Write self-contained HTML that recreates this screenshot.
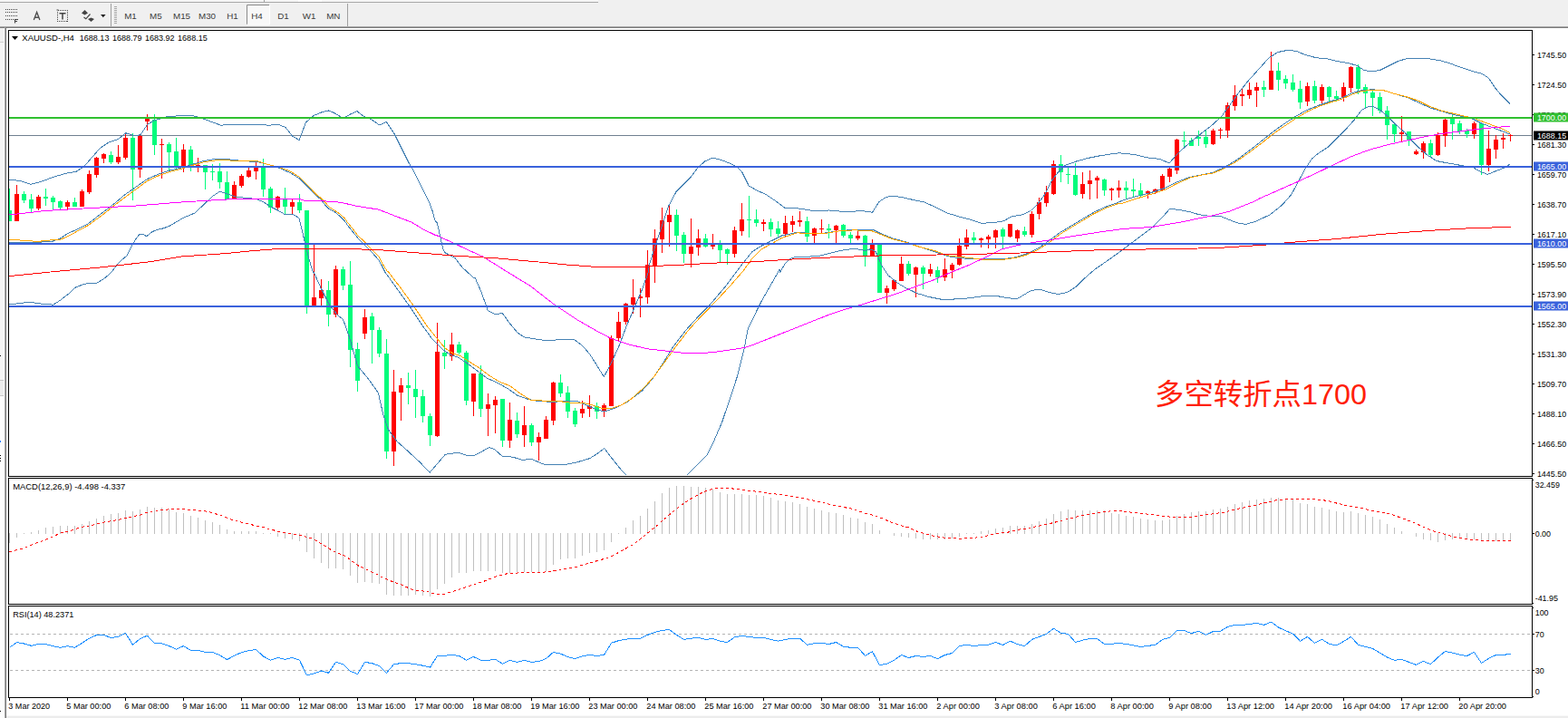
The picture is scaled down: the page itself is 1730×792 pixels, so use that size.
<!DOCTYPE html>
<html><head><meta charset="utf-8"><title>XAUUSD H4</title>
<style>html,body{margin:0;padding:0;background:#fff;}body{width:1730px;height:792px;overflow:hidden;font-family:"Liberation Sans",sans-serif;}</style>
</head><body><svg width="1730" height="792" viewBox="0 0 1730 792" style="display:block"><rect x="0" y="0" width="1730" height="792" fill="#f0f0f0"/>
<rect x="0" y="0" width="660" height="2" fill="#f6f6f6"/>
<rect x="0" y="2" width="660" height="1" fill="#a8a8a8"/>
<rect x="291" y="0" width="1" height="2" fill="#a0a0a0"/>
<rect x="329" y="0" width="26" height="2" fill="#ffffff"/>
<rect x="0" y="29" width="1730" height="1" fill="#a8a8a8"/>
<rect x="0" y="30" width="1730" height="1" fill="#7a7a7a"/>
<rect x="0" y="31" width="1730" height="2" fill="#ffffff"/>
<rect x="0" y="31" width="4" height="16" fill="#f0f0f0"/>
<rect x="0" y="46" width="4" height="1" fill="#d0d0d0"/>
<rect x="0" y="47" width="4" height="372" fill="#f5f5f5"/>
<rect x="0" y="419" width="4" height="1" fill="#c4c4c4"/>
<rect x="0" y="420" width="4" height="16" fill="#ececec"/>
<rect x="0" y="436" width="4" height="1" fill="#c8c8c8"/>
<rect x="0" y="437" width="4" height="355" fill="#fdfdfd"/>
<rect x="0" y="392" width="1" height="1" fill="#000"/>
<rect x="0" y="784" width="1" height="1" fill="#000"/>
<rect x="0" y="486" width="1" height="2" fill="#2a7fff"/>
<rect x="0" y="502" width="1" height="1" fill="#000"/><rect x="0" y="505" width="1" height="1" fill="#000"/><rect x="0" y="508" width="1" height="1" fill="#000"/>
<rect x="4" y="31" width="1" height="761" fill="#fafafa"/>
<rect x="5" y="30" width="1" height="762" fill="#a8a8a8"/>
<rect x="6" y="30" width="1" height="762" fill="#7a7a7a"/>
<rect x="7" y="31" width="2" height="761" fill="#ffffff"/>
<rect x="9" y="31" width="1721" height="759" fill="#ffffff"/>
<rect x="7" y="790" width="1723" height="2" fill="#ececec"/>
<rect x="7" y="789" width="1723" height="1" fill="#f8f8f8"/>
<g id="tb">
<path d="M6 10.5H19M6 13.5H19M6 17.5H19M6 21.5H15" stroke="#444" stroke-width="1" stroke-dasharray="1,1" fill="none" shape-rendering="crispEdges"/>
<path d="M16.5 25.5V21.5H20M16.5 23.5H19" stroke="#444" stroke-width="1.1" fill="none"/>
<path d="M37.3 22.1L40.6 13.4L43.9 22.1M38.5 19.2H42.7" stroke="#505050" stroke-width="1.35" fill="none" stroke-linejoin="miter"/>
<rect x="63.5" y="11.5" width="11" height="12" fill="none" stroke="#444" stroke-width="1" stroke-dasharray="1,1" shape-rendering="crispEdges"/>
<path d="M65.5 14.7H72.5M69 14.7V21.5" stroke="#444" stroke-width="1.5" fill="none"/>
<rect x="62.5" y="10.5" width="2" height="1" fill="#444"/>
<path d="M90 14.5L93.5 11L97 14.5L93.5 16.5Z" fill="#444"/>
<path d="M97 21L100.5 24L104 21L100.5 19.5Z" fill="#444"/>
<path d="M92.5 19L94.8 20.8L99.5 15.5" stroke="#444" stroke-width="1.2" fill="none"/>
<path d="M111 16H116.6L113.8 19.2Z" fill="#222"/>
<rect x="122" y="4" width="1" height="25" fill="#a0a0a0"/>
<rect x="383" y="4" width="1" height="25" fill="#a0a0a0"/>
<path d="M126 7.5H129M126 9.5H129M126 11.5H129M126 13.5H129M126 15.5H129M126 17.5H129M126 19.5H129M126 21.5H129M126 23.5H129M126 25.5H129" stroke="#a8a8a8" stroke-width="1" fill="none" shape-rendering="crispEdges"/>
<rect x="272" y="5" width="25" height="22" fill="#f8f8f8"/>
<path d="M272.5 27V5.5H297" stroke="#8a8a8a" stroke-width="1" fill="none"/>
<path d="M272.5 27H297.5V6" stroke="#ffffff" stroke-width="1" fill="none"/>
<g font-size="9.8" font-family="Liberation Sans, sans-serif" fill="#3c3c3c" text-anchor="middle">
<text x="144" y="21.2">M1</text><text x="171.8" y="21.2">M5</text><text x="200.5" y="21.2">M15</text><text x="228.5" y="21.2">M30</text><text x="256.5" y="21.2">H1</text><text x="283.5" y="21.2">H4</text><text x="312.4" y="21.2">D1</text><text x="341.2" y="21.2">W1</text><text x="367.8" y="21.2">MN</text>
</g>
</g>

<rect x="9.5" y="33.5" width="1681" height="492" fill="#fff" stroke="#000" stroke-width="1" shape-rendering="crispEdges"/>
<rect x="9.5" y="527.5" width="1681" height="139" fill="#fff" stroke="#000" stroke-width="1" shape-rendering="crispEdges"/>
<rect x="9.5" y="668.5" width="1681" height="101" fill="#fff" stroke="#000" stroke-width="1" shape-rendering="crispEdges"/>
<defs>
<clipPath id="c1"><rect x="10" y="34" width="1680" height="491"/></clipPath>
<clipPath id="c2"><rect x="10" y="528" width="1680" height="138"/></clipPath>
<clipPath id="c3"><rect x="10" y="669" width="1680" height="100"/></clipPath>
</defs>
<g clip-path="url(#c1)" shape-rendering="crispEdges">
<rect x="10" y="149" width="1680" height="1" fill="#708090"/>
<path d="M18 204h1V244h-1zM42 215h1V232h-1zM74 221h1V231h-1zM90 209h1V228h-1zM98 188h1V214h-1zM106 173h1V196h-1zM114 169h1V180h-1zM130 160h1V181h-1zM138 147h1V176h-1zM154 149h1V196h-1zM162 126h1V144h-1zM178 153h1V197h-1zM202 159h1V190h-1zM218 174h1V190h-1zM258 200h1V220h-1zM266 192h1V207h-1zM274 183h1V196h-1zM282 179h1V198h-1zM306 216h1V233h-1zM322 220h1V236h-1zM346 270h1V338h-1zM354 308h1V337h-1zM370 293h1V350h-1zM402 341h1V374h-1zM434 408h1V514h-1zM442 417h1V464h-1zM482 356h1V482h-1zM498 367h1V398h-1zM522 412h1V459h-1zM538 434h1V481h-1zM546 437h1V478h-1zM562 444h1V494h-1zM578 448h1V493h-1zM594 477h1V508h-1zM602 459h1V484h-1zM610 421h1V469h-1zM642 442h1V461h-1zM650 436h1V460h-1zM666 445h1V460h-1zM674 370h1V448h-1zM682 344h1V376h-1zM690 334h1V358h-1zM698 308h1V346h-1zM706 318h1V350h-1zM714 276h1V335h-1zM722 253h1V312h-1zM730 229h1V279h-1zM738 227h1V272h-1zM762 241h1V295h-1zM770 253h1V282h-1zM786 258h1V275h-1zM810 250h1V284h-1zM818 224h1V260h-1zM842 242h1V255h-1zM866 238h1V262h-1zM874 238h1V256h-1zM882 233h1V250h-1zM898 251h1V268h-1zM906 242h1V257h-1zM922 248h1V268h-1zM946 255h1V265h-1zM962 264h1V282h-1zM978 315h1V335h-1zM986 308h1V321h-1zM994 283h1V310h-1zM1010 294h1V328h-1zM1026 291h1V305h-1zM1042 285h1V310h-1zM1050 290h1V307h-1zM1058 263h1V293h-1zM1066 253h1V275h-1zM1082 262h1V273h-1zM1090 259h1V274h-1zM1098 253h1V274h-1zM1114 247h1V262h-1zM1122 253h1V267h-1zM1138 233h1V262h-1zM1146 218h1V242h-1zM1154 205h1V228h-1zM1162 177h1V215h-1zM1194 190h1V219h-1zM1202 188h1V220h-1zM1210 194h1V219h-1zM1226 207h1V221h-1zM1234 199h1V218h-1zM1266 210h1V219h-1zM1274 208h1V214h-1zM1282 192h1V210h-1zM1290 185h1V201h-1zM1298 153h1V192h-1zM1338 142h1V160h-1zM1346 141h1V153h-1zM1354 113h1V152h-1zM1362 94h1V122h-1zM1370 98h1V117h-1zM1378 91h1V109h-1zM1386 91h1V118h-1zM1402 57h1V99h-1zM1442 91h1V117h-1zM1458 93h1V117h-1zM1482 91h1V112h-1zM1490 73h1V102h-1zM1546 128h1V156h-1zM1562 165h1V171h-1zM1570 156h1V175h-1zM1586 146h1V172h-1zM1594 131h1V162h-1zM1626 134h1V153h-1zM1642 144h1V189h-1zM1650 149h1V175h-1zM1658 147h1V164h-1zM1666 148h1V156h-1zM16 214h5V244h-5zM40 217h5V230h-5zM72 223h5V228h-5zM88 211h5V228h-5zM96 192h5V212h-5zM104 174h5V193h-5zM112 170h5V175h-5zM128 173h5V179h-5zM136 152h5V174h-5zM152 150h5V187h-5zM160 131h5V134h-5zM176 159h5V160h-5zM200 165h5V184h-5zM216 182h5V184h-5zM256 204h5V220h-5zM264 194h5V205h-5zM272 188h5V195h-5zM280 185h5V189h-5zM304 217h5V229h-5zM320 223h5V228h-5zM344 328h5V337h-5zM352 320h5V329h-5zM368 297h5V347h-5zM400 350h5V368h-5zM432 432h5V498h-5zM440 425h5V433h-5zM480 388h5V481h-5zM496 380h5V393h-5zM520 412h5V443h-5zM536 446h5V451h-5zM544 441h5V447h-5zM560 463h5V486h-5zM576 469h5V480h-5zM592 482h5V488h-5zM600 463h5V484h-5zM608 422h5V464h-5zM640 451h5V456h-5zM648 448h5V451h-5zM664 447h5V454h-5zM672 373h5V448h-5zM680 355h5V373h-5zM688 335h5V355h-5zM696 328h5V336h-5zM704 327h5V329h-5zM712 292h5V328h-5zM720 263h5V293h-5zM728 243h5V264h-5zM736 237h5V245h-5zM760 272h5V280h-5zM768 263h5V273h-5zM784 269h5V272h-5zM808 254h5V280h-5zM816 242h5V255h-5zM840 245h5V247h-5zM864 246h5V258h-5zM872 244h5V248h-5zM880 243h5V245h-5zM896 252h5V260h-5zM904 252h5V253h-5zM920 249h5V254h-5zM944 260h5V263h-5zM960 270h5V282h-5zM976 318h5V323h-5zM984 309h5V319h-5zM992 291h5V310h-5zM1008 295h5V303h-5zM1024 297h5V302h-5zM1040 297h5V306h-5zM1048 292h5V298h-5zM1056 271h5V292h-5zM1064 262h5V272h-5zM1080 263h5V265h-5zM1088 261h5V264h-5zM1096 254h5V262h-5zM1112 247h5V261h-5zM1120 254h5V263h-5zM1136 236h5V259h-5zM1144 223h5V236h-5zM1152 212h5V224h-5zM1160 181h5V214h-5zM1192 203h5V214h-5zM1200 199h5V203h-5zM1208 196h5V199h-5zM1224 208h5V210h-5zM1232 207h5V210h-5zM1264 211h5V214h-5zM1272 209h5V212h-5zM1280 194h5V210h-5zM1288 186h5V195h-5zM1296 154h5V188h-5zM1336 144h5V159h-5zM1344 143h5V144h-5zM1352 116h5V144h-5zM1360 105h5V117h-5zM1368 104h5V106h-5zM1376 99h5V105h-5zM1384 96h5V100h-5zM1400 78h5V99h-5zM1440 95h5V112h-5zM1456 96h5V111h-5zM1480 96h5V108h-5zM1488 74h5V97h-5zM1544 146h5V148h-5zM1560 167h5V170h-5zM1568 158h5V168h-5zM1584 149h5V171h-5zM1592 132h5V150h-5zM1624 136h5V148h-5zM1640 164h5V182h-5zM1648 154h5V165h-5zM1656 152h5V154h-5zM1664 149h5V150h-5z" fill="#ff0000"/>
<path d="M10 208h1V244h-1zM26 211h1V224h-1zM34 214h1V235h-1zM50 208h1V227h-1zM58 216h1V232h-1zM66 221h1V232h-1zM82 218h1V228h-1zM122 167h1V181h-1zM146 147h1V221h-1zM170 126h1V171h-1zM186 157h1V190h-1zM194 152h1V188h-1zM210 161h1V189h-1zM226 182h1V209h-1zM234 181h1V199h-1zM242 180h1V208h-1zM250 189h1V220h-1zM290 175h1V217h-1zM298 206h1V235h-1zM314 207h1V237h-1zM330 214h1V235h-1zM338 232h1V346h-1zM362 310h1V360h-1zM378 294h1V320h-1zM386 288h1V405h-1zM394 378h1V432h-1zM410 345h1V401h-1zM418 361h1V394h-1zM426 374h1V506h-1zM450 411h1V446h-1zM458 408h1V461h-1zM466 430h1V466h-1zM474 456h1V492h-1zM490 375h1V407h-1zM506 377h1V391h-1zM514 387h1V447h-1zM530 403h1V460h-1zM554 440h1V493h-1zM570 455h1V483h-1zM586 467h1V492h-1zM618 413h1V438h-1zM626 426h1V461h-1zM634 450h1V471h-1zM658 444h1V462h-1zM746 231h1V277h-1zM754 256h1V290h-1zM778 258h1V273h-1zM794 265h1V290h-1zM802 274h1V292h-1zM826 216h1V262h-1zM834 231h1V250h-1zM850 241h1V261h-1zM858 244h1V262h-1zM890 239h1V267h-1zM914 247h1V263h-1zM930 247h1V262h-1zM938 256h1V268h-1zM954 259h1V294h-1zM970 269h1V323h-1zM1002 288h1V304h-1zM1018 293h1V319h-1zM1034 294h1V312h-1zM1074 256h1V268h-1zM1106 251h1V275h-1zM1130 250h1V261h-1zM1170 171h1V201h-1zM1178 185h1V203h-1zM1186 180h1V216h-1zM1218 197h1V216h-1zM1242 200h1V220h-1zM1250 197h1V218h-1zM1258 202h1V217h-1zM1306 145h1V164h-1zM1314 152h1V161h-1zM1322 144h1V161h-1zM1330 143h1V163h-1zM1394 89h1V107h-1zM1410 69h1V100h-1zM1418 83h1V98h-1zM1426 82h1V101h-1zM1434 89h1V120h-1zM1450 89h1V114h-1zM1466 95h1V112h-1zM1474 100h1V111h-1zM1498 71h1V104h-1zM1506 93h1V119h-1zM1514 100h1V128h-1zM1522 102h1V125h-1zM1530 117h1V154h-1zM1538 135h1V157h-1zM1554 145h1V161h-1zM1578 154h1V173h-1zM1602 126h1V154h-1zM1610 133h1V148h-1zM1618 142h1V152h-1zM1634 135h1V193h-1zM8 232h5V244h-5zM24 214h5V221h-5zM32 220h5V230h-5zM48 217h5V219h-5zM56 218h5V223h-5zM64 222h5V229h-5zM80 223h5V228h-5zM120 171h5V179h-5zM144 152h5V187h-5zM168 132h5V160h-5zM184 159h5V168h-5zM192 167h5V184h-5zM208 165h5V184h-5zM224 182h5V190h-5zM232 189h5V190h-5zM240 189h5V201h-5zM248 201h5V220h-5zM288 185h5V209h-5zM296 208h5V229h-5zM312 220h5V228h-5zM328 223h5V232h-5zM336 232h5V338h-5zM360 320h5V347h-5zM376 297h5V315h-5zM384 314h5V386h-5zM392 385h5V420h-5zM408 349h5V364h-5zM416 364h5V390h-5zM424 390h5V498h-5zM448 425h5V428h-5zM456 429h5V438h-5zM464 437h5V459h-5zM472 459h5V480h-5zM488 389h5V393h-5zM504 380h5V389h-5zM512 389h5V442h-5zM528 412h5V451h-5zM552 440h5V486h-5zM568 464h5V479h-5zM584 469h5V488h-5zM616 422h5V434h-5zM624 433h5V454h-5zM632 453h5V468h-5zM656 448h5V454h-5zM744 237h5V260h-5zM752 259h5V280h-5zM776 263h5V272h-5zM792 269h5V276h-5zM800 275h5V280h-5zM824 242h5V243h-5zM832 242h5V246h-5zM848 245h5V253h-5zM856 252h5V258h-5zM888 244h5V261h-5zM912 252h5V254h-5zM928 248h5V260h-5zM936 259h5V263h-5zM952 260h5V282h-5zM968 269h5V323h-5zM1000 291h5V302h-5zM1016 295h5V302h-5zM1032 298h5V306h-5zM1072 262h5V265h-5zM1104 253h5V261h-5zM1128 255h5V259h-5zM1168 181h5V190h-5zM1176 192h5V193h-5zM1184 193h5V215h-5zM1216 198h5V210h-5zM1240 207h5V210h-5zM1248 209h5V211h-5zM1256 210h5V216h-5zM1304 155h5V156h-5zM1312 155h5V161h-5zM1320 151h5V153h-5zM1328 151h5V159h-5zM1392 96h5V99h-5zM1408 78h5V88h-5zM1416 87h5V92h-5zM1424 91h5V99h-5zM1432 98h5V113h-5zM1448 95h5V111h-5zM1464 96h5V107h-5zM1472 106h5V109h-5zM1496 74h5V98h-5zM1504 96h5V103h-5zM1512 102h5V108h-5zM1520 107h5V122h-5zM1528 122h5V138h-5zM1536 137h5V148h-5zM1552 145h5V154h-5zM1576 158h5V171h-5zM1600 131h5V137h-5zM1608 136h5V145h-5zM1616 144h5V148h-5zM1632 136h5V182h-5z" fill="#00fc7c"/>
<path d="M10 198 L22.5 199.5 L33.8 203.2 L45 200.5 L57.5 195.8 L72.5 191.2 L83.8 189.5 L92.5 183.8 L102.5 172.5 L110 163.8 L120 157 L130 153.8 L138.8 146.8 L147.5 149.5 L155 148.8 L162.5 137.5 L170 133 L183.8 128.8 L200 127.5 L212.5 127.5 L225 131.2 L235 135 L243.8 138.2 L255 137 L270 137 L282.5 137 L296.2 138.2 L307.5 137.5 L315 140.5 L322.5 150 L330 154.5 L337.5 135 L346.2 127.5 L355 123.8 L362.5 122 L368.8 124.5 L378.8 130.5 L386.2 126.2 L393.8 122.5 L400 127.5 L410 132 L418.8 138 L426.2 134.2 L435 147.5 L442.5 162.5 L451.2 180 L455.8 187.6 L461.8 199.7 L467.9 211.8 L473.9 223.9 L477.7 234.5 L479.7 242.9 L482.5 246.2 L488.8 275 L491.2 278.8 L502.5 285 L510 295 L522.5 306.2 L524.1 306.3 L531.3 322.8 L538.4 342.8 L547 347.1 L554.1 345.1 L562.7 357.1 L571.2 367.1 L578.4 371.9 L588.4 373.6 L602.6 375.6 L616.9 374.8 L634 374.8 L642.6 381.3 L651.1 391.3 L658.3 402.7 L666.3 415.6 L674 401.3 L682.5 382.8 L691.1 359.9 L699.7 340 L708.2 320 L715.4 300 L715.5 295 L722.5 272.5 L730 250 L737.5 227.5 L746.2 211.2 L755 202.5 L762.5 195 L770 185 L777.5 178 L786.2 174.2 L795 176.2 L805 180 L812.5 183.8 L818.8 190 L826.2 205 L835 210 L845 214.5 L855 221.2 L866.2 229.5 L881.2 230 L897.5 232.5 L915 232 L935 233.8 L950 232.5 L962.5 234.2 L970 222.5 L977.5 217.5 L985 216.2 L995 217.5 L1007.5 220.5 L1020 223 L1032.5 228.8 L1045 235 L1057.5 238.8 L1070 242 L1082.5 246.2 L1095 245.8 L1107.5 243.8 L1116.2 238.8 L1127.5 237 L1137.5 232.5 L1145 225 L1152.5 215 L1160 200 L1167.5 190 L1175 182.5 L1187.5 178 L1200 174.5 L1212.5 172 L1225 170 L1235 168.8 L1252.5 170.5 L1265 173.8 L1280 175.5 L1290 180 L1300 168.8 L1312.5 157.5 L1325 147.5 L1335 140 L1347.5 128.8 L1357.5 115 L1367.5 101.2 L1377.5 88.8 L1390 75 L1400 63.8 L1410 57.5 L1420 55.5 L1430 56.2 L1440 60.5 L1452.5 63.8 L1465 65 L1475 67.5 L1487.5 69.5 L1497.5 72.5 L1505 77.5 L1512.5 78.8 L1522.5 77.5 L1532.5 72.5 L1542.5 67.5 L1552.5 64.5 L1565 64.2 L1577.5 65 L1590 67 L1600 70 L1610 73.8 L1625 78.8 L1635 81.2 L1642.5 86.2 L1650 97.5 L1657.5 106.2 L1665.8 114.5" fill="none" stroke="#4682b4" stroke-width="1" />
<path d="M10 335.8 L20.8 334.7 L31.9 333.1 L40.3 334.4 L50 335.6 L59 336.1 L66.7 331 L75 324.7 L83.3 317.1 L90.3 314.3 L97.2 312.5 L106.9 312.2 L113.9 308.1 L122.2 301.1 L129.2 292.1 L134.7 286.5 L140.3 281.7 L144.4 273.3 L149.3 264.3 L154.2 258.1 L158.3 258.8 L161.8 260.6 L168.1 255.6 L173.6 253.2 L180.6 251.8 L187.5 249 L194.4 244.9 L202.8 240 L215 235 L225 225.5 L235 216.2 L242.5 211.2 L250 213.8 L260 217 L270 218.2 L282.5 219.5 L290 222.5 L300 228.8 L307.5 232.5 L315 237 L322.5 236.2 L329.5 240.2 L330 240.6 L333 252.7 L336.8 269.4 L340.6 284.5 L345.2 300 L346.5 300.8 L354.1 317.8 L363.6 336.7 L373 348.1 L378.6 352.5 L385.5 371.8 L394.5 403.6 L405.9 417.3 L417.3 433.2 L423 458.2 L428.6 474.1 L437.7 486.6 L449.1 496.8 L462.7 509.3 L474.2 521.2 L482.8 511.2 L491.3 501.2 L505.6 499.2 L514.2 502.1 L522.7 502.6 L531.3 498.3 L539.8 493.5 L545.5 495.5 L554.1 503.2 L565.5 504.1 L576.9 507.5 L585.5 506.1 L599.8 512 L611.2 512.9 L622.6 512.6 L636.9 509.8 L651.1 505.5 L659.7 499.8 L666.8 494.6 L674 504.1 L685.4 518.3 L691.1 524" fill="none" stroke="#4682b4" stroke-width="1" />
<path d="M758.2 524 L765.3 516.9 L779.6 502.6 L788.1 485.5 L796.7 465.5 L805.3 439.8 L813.8 414.2 L820.9 385.6 L825.2 362.8 L832.1 348.5 L840 332.5 L850 315 L860 297.5 L860.8 300 L866.1 290.8 L871.4 285.8 L876.7 283.7 L887.3 283.2 L901.5 282.8 L912.1 280.2 L926.2 276.6 L935.1 275.2 L943.9 274.5 L951 275.8 L954.5 276.3 L960 274.9 L966.2 277.5 L972.5 292.5 L980 303.8 L990 312 L1000 318 L1012.5 323.8 L1025 327.5 L1037.5 330 L1052.5 330 L1070 328.8 L1087.5 326.2 L1102.5 327 L1112.5 328.8 L1122.5 329.5 L1130 325 L1137.5 320.5 L1147.5 319.2 L1157.5 322.5 L1167.5 324.5 L1177.5 322.5 L1187.5 316.2 L1197.5 306.2 L1207.5 297.5 L1220 288.8 L1232.5 280 L1242.5 272.5 L1255.6 262.8 L1271.2 251.1 L1281.6 240.7 L1290.7 230.3 L1302.4 231.6 L1312.8 233.7 L1323.2 236.8 L1336.3 238.6 L1346.7 238.6 L1357.1 242.8 L1367.5 246.7 L1375.3 247.2 L1385.7 244.1 L1401.3 236.8 L1414.3 226.4 L1424.7 214.7 L1432.5 200.4 L1440 186.2 L1447.5 175 L1455 168.8 L1465 162.5 L1475 152.5 L1485 142.5 L1495 131.2 L1502.5 121.2 L1508.8 118 L1515 117.5 L1522.5 121.2 L1530 127.5 L1540 137.5 L1550 146.2 L1557.5 155 L1565 162.5 L1575 171.2 L1585 177.5 L1595 179.5 L1605 181.2 L1615 183 L1625 184.5 L1632.5 188.8 L1641.2 192.5 L1650 188.8 L1660 185 L1665.8 181.2" fill="none" stroke="#4682b4" stroke-width="1" />
<path d="M10 267.5 L30.6 267.5 L44.4 267.1 L58.3 266.1 L66.7 262.9 L75 257.4 L86.1 252.5 L97.2 246.9 L112.5 235 L125 225.5 L137.5 215 L150 206.2 L162.5 197.5 L175 192 L187.5 188 L200 185 L210 182 L225 177.5 L237.5 175.5 L250 175.5 L262.5 177 L275 178 L285 178.8 L295 181.2 L307.5 185 L320 190.5 L330 196.7 L336.1 202.7 L342.1 208.8 L349.7 216.4 L354.2 220.2 L358.8 226.2 L363.3 230.8 L369.4 233.8 L375.5 238.8 L380 243.6 L384.5 249.7 L390.6 257.3 L395.2 263 L401.2 269.4 L405.8 273.9 L411.8 280 L417.9 286.8 L422.4 295.2 L424.7 300 L437.1 317.1 L451.4 337.1 L465.6 358.5 L477.1 374.2 L488.5 385.6 L497 391.3 L505.6 394.2 L514.2 399.9 L525.6 408.4 L537 417 L548.4 422.1 L559.8 428.4 L571.2 436.4 L582.6 440.4 L594.1 442.7 L611.2 443.3 L625.5 442.1 L636.9 442.7 L648.3 447.5 L659.7 452.7 L668.3 453.5 L679.7 449.8 L691.1 444.1 L708.2 431.3 L719.6 418.4 L731.1 401.3 L742.5 382.8 L756.7 364.2 L771 348.5 L782.4 337.1 L799.5 317.1 L820 290 L830 277.5 L840 271.2 L850 266.2 L862.5 260 L880 256.2 L895 257.5 L910 257 L925 255 L942.5 253 L962.5 253 L972.5 258 L985 263 L1000 267 L1015 272.5 L1032.5 278 L1045 282.5 L1057.5 284.5 L1070 285.5 L1085 285.8 L1107.5 285.8 L1120 283.8 L1132.5 280 L1145 274.2 L1157.5 265.5 L1170 256.2 L1182.5 248.8 L1195 241.2 L1207.5 233.8 L1220 228.2 L1232.5 223.8 L1240 220.5 L1255 216.2 L1270 212.5 L1285 207.5 L1297.5 201.2 L1312.5 195.5 L1325 193 L1337.5 190.5 L1350 185 L1365 176.2 L1380 165 L1392.5 155 L1405 145 L1417.5 136.2 L1430 128 L1442.5 121.2 L1455 116.2 L1467.5 112 L1480 108 L1492.5 102.5 L1502.5 99.5 L1515 98.8 L1527.5 100 L1540 103.8 L1552.5 107.5 L1565 113 L1577.5 118.8 L1590 122.5 L1602.5 126.2 L1615 128.8 L1625 131.2 L1635 136.2 L1645 140 L1655 143.8 L1665.8 148" fill="none" stroke="#4682b4" stroke-width="1" />
<path d="M10 264.6 L22.2 265 L41.7 266.4 L58.3 264.7 L66.7 264.3 L75 260.6 L86.1 254.6 L97.2 248.6 L112.5 237.5 L125 227.5 L137.5 218 L150 208.8 L162.5 199.5 L175 193.8 L187.5 189.5 L200 186.2 L210 183 L225 178.8 L237.5 177 L250 176.8 L262.5 177.5 L275 177.5 L285 178 L295 181.2 L307.5 184.5 L320 188.8 L330 195.2 L336.1 201.2 L342.1 207.3 L349.7 215.2 L354.2 218.6 L358.8 223.2 L363.3 228.5 L369.4 232.3 L375.5 236.4 L380 240.6 L384.5 246.7 L390.6 254.2 L395.2 260.3 L401.2 265.6 L405.8 270.9 L411.8 277 L417.9 283 L422.4 291.4 L427 298.9 L428.5 300 L442.8 318.6 L457.1 338.5 L471.3 359.9 L482.8 374.2 L491.3 384.2 L499.9 389.9 L508.4 392.8 L517 398.5 L528.4 405.6 L539.8 414.2 L551.3 421.3 L562.7 425.6 L574.1 434.1 L585.5 441.3 L599.8 442.1 L614 442.1 L628.3 444.1 L642.6 444.1 L654 447 L665.4 450.7 L674 450.7 L685.4 447 L696.8 439.8 L711.1 427 L722.5 414.2 L733.9 398.5 L745.3 382.8 L759.6 364.2 L773.9 348.5 L788.1 334.2 L805.3 315.7 L820 298.8 L830 285 L840 275 L850 269.5 L862.5 262.5 L880 256.8 L895 258 L910 257.5 L925 255 L942.5 253.8 L962.5 255 L972.5 258.8 L985 263.8 L1000 267.5 L1015 272.5 L1032.5 277 L1045 281.8 L1057.5 283.2 L1070 284.5 L1085 286.2 L1107.5 286.2 L1120 284.5 L1132.5 281.2 L1145 275.5 L1157.5 267.5 L1170 258 L1182.5 250.5 L1195 243 L1207.5 235.5 L1220 229.5 L1232.5 225 L1240 223.8 L1255 218.8 L1270 214.2 L1285 209.5 L1297.5 203 L1312.5 196.2 L1325 193.2 L1337.5 191.2 L1350 186.2 L1365 177.5 L1380 167 L1392.5 157.5 L1405 147.5 L1417.5 138.8 L1430 130.5 L1442.5 123 L1455 117.5 L1467.5 113 L1480 109.5 L1492.5 103.8 L1502.5 100.5 L1515 99.2 L1527.5 100 L1540 103.8 L1552.5 107 L1565 111.2 L1577.5 117.5 L1590 122 L1602.5 125 L1615 128 L1625 130 L1635 133.8 L1645 137.5 L1655 141.2 L1665.8 146.2" fill="none" stroke="#ffa500" stroke-width="1" />
<path d="M10 237 L50 232.5 L100 229.5 L150 227 L200 223 L250 220 L275 219.2 L300 219.2 L330 219.4 L336.1 221.2 L355.8 221.7 L375.5 223.2 L393.6 227.3 L417.9 231.2 L436.1 238.3 L454.2 245.2 L466.4 252.7 L480 259.2 L482.5 260 L500 268 L515 275 L532.5 283 L550 293.8 L559.8 300 L585.5 315.7 L611.2 335.7 L636.9 352.8 L656.8 364.2 L674 373.3 L693.9 379.9 L713.9 384.8 L733.9 387 L751 389 L768.2 389.9 L788.1 388.5 L808.1 385.6 L822.4 383.3 L832.1 379.9 L912.5 348 L930 342 L950 336.2 L970 330 L990 323.8 L1010 316.2 L1030 308.8 L1050 300 L1070 292 L1090 282.5 L1105 275 L1120 271.2 L1140 267.5 L1160 264.5 L1180 261.2 L1200 258 L1220 255 L1240 252.4 L1271.2 250.4 L1305 244.6 L1336.3 238.1 L1357.1 232.9 L1383.1 222.5 L1390 218.8 L1410 210 L1430 201.2 L1450 192 L1470 182.5 L1490 173 L1510 165.5 L1530 160 L1550 155.5 L1570 151.2 L1590 147.5 L1610 145 L1630 142.5 L1650 140.5 L1665.8 139.2" fill="none" stroke="#ff00ff" stroke-width="1" />
<path d="M10 304.6 L55.6 300 L111.1 294.9 L166.7 288.6 L200 283 L250 279.5 L275 277 L300 275 L325 274 L330 274.7 L390.6 274.7 L420.9 275.8 L451.2 278.2 L480 280.3 L500 282 L550 285 L600 289.5 L625 292 L655 294.2 L675 294.5 L712.5 294.2 L732.5 293 L755 292 L780 290.5 L810 289.2 L820 289.5 L870 286.2 L920 283.8 L970 282 L1020 281.2 L1070 280.5 L1120 279.2 L1170 277.5 L1220 275.5 L1240 275.8 L1279 274.5 L1338.9 273.8 L1396.1 270.1 L1422.1 267.5 L1474.1 263.6 L1526.2 258.2 L1578.2 254.3 L1622.4 251.7 L1666.6 250.4" fill="none" stroke="#ff0000" stroke-width="1" />
<rect x="10" y="129" width="1680" height="2" fill="#30c030"/>
<rect x="10" y="183" width="1680" height="2" fill="#3a62dc"/>
<rect x="10" y="268" width="1680" height="2" fill="#3a62dc"/>
<rect x="10" y="337" width="1680" height="2" fill="#3a62dc"/>
</g>
<path d="M13 40H20L16.5 44Z" fill="#000"/>
<text x="24.3" y="45" font-size="9.9" font-family="Liberation Sans, sans-serif" fill="#000" textLength="57.6" lengthAdjust="spacingAndGlyphs">XAUUSD-,H4</text>
<text x="87.8" y="45" font-size="9.9" font-family="Liberation Sans, sans-serif" fill="#000" textLength="32.6" lengthAdjust="spacingAndGlyphs">1688.13</text>
<text x="123.9" y="45" font-size="9.9" font-family="Liberation Sans, sans-serif" fill="#000" textLength="32.6" lengthAdjust="spacingAndGlyphs">1688.79</text>
<text x="160.0" y="45" font-size="9.9" font-family="Liberation Sans, sans-serif" fill="#000" textLength="32.6" lengthAdjust="spacingAndGlyphs">1683.92</text>
<text x="196.10000000000002" y="45" font-size="9.9" font-family="Liberation Sans, sans-serif" fill="#000" textLength="32.6" lengthAdjust="spacingAndGlyphs">1688.15</text>
<text x="1274" y="446" font-size="31.5" font-family="&quot;Liberation Sans&quot;, &quot;Noto Sans CJK SC&quot;, sans-serif" fill="#ff2008" textLength="234" lengthAdjust="spacingAndGlyphs">多空转折点1700</text>
<rect x="1691" y="60" width="2" height="1" fill="#000"/>
<text x="1695.9" y="64" font-size="9.9" font-family="Liberation Sans, sans-serif" fill="#000" textLength="32.2" lengthAdjust="spacingAndGlyphs">1745.50</text>
<rect x="1691" y="93" width="2" height="1" fill="#000"/>
<text x="1695.9" y="97" font-size="9.9" font-family="Liberation Sans, sans-serif" fill="#000" textLength="32.2" lengthAdjust="spacingAndGlyphs">1724.50</text>
<rect x="1691" y="126" width="2" height="1" fill="#000"/>
<text x="1695.9" y="130" font-size="9.9" font-family="Liberation Sans, sans-serif" fill="#000" textLength="32.2" lengthAdjust="spacingAndGlyphs">1702.90</text>
<rect x="1691" y="159" width="2" height="1" fill="#000"/>
<text x="1695.9" y="163" font-size="9.9" font-family="Liberation Sans, sans-serif" fill="#000" textLength="32.2" lengthAdjust="spacingAndGlyphs">1681.30</text>
<rect x="1691" y="192" width="2" height="1" fill="#000"/>
<text x="1695.9" y="196" font-size="9.9" font-family="Liberation Sans, sans-serif" fill="#000" textLength="32.2" lengthAdjust="spacingAndGlyphs">1659.70</text>
<rect x="1691" y="225" width="2" height="1" fill="#000"/>
<text x="1695.9" y="229" font-size="9.9" font-family="Liberation Sans, sans-serif" fill="#000" textLength="32.2" lengthAdjust="spacingAndGlyphs">1638.70</text>
<rect x="1691" y="258" width="2" height="1" fill="#000"/>
<text x="1695.9" y="262" font-size="9.9" font-family="Liberation Sans, sans-serif" fill="#000" textLength="32.2" lengthAdjust="spacingAndGlyphs">1617.10</text>
<rect x="1691" y="291" width="2" height="1" fill="#000"/>
<text x="1695.9" y="295" font-size="9.9" font-family="Liberation Sans, sans-serif" fill="#000" textLength="32.2" lengthAdjust="spacingAndGlyphs">1595.50</text>
<rect x="1691" y="324" width="2" height="1" fill="#000"/>
<text x="1695.9" y="328" font-size="9.9" font-family="Liberation Sans, sans-serif" fill="#000" textLength="32.2" lengthAdjust="spacingAndGlyphs">1573.90</text>
<rect x="1691" y="357" width="2" height="1" fill="#000"/>
<text x="1695.9" y="361" font-size="9.9" font-family="Liberation Sans, sans-serif" fill="#000" textLength="32.2" lengthAdjust="spacingAndGlyphs">1552.30</text>
<rect x="1691" y="390" width="2" height="1" fill="#000"/>
<text x="1695.9" y="394" font-size="9.9" font-family="Liberation Sans, sans-serif" fill="#000" textLength="32.2" lengthAdjust="spacingAndGlyphs">1531.30</text>
<rect x="1691" y="423" width="2" height="1" fill="#000"/>
<text x="1695.9" y="427" font-size="9.9" font-family="Liberation Sans, sans-serif" fill="#000" textLength="32.2" lengthAdjust="spacingAndGlyphs">1509.70</text>
<rect x="1691" y="456" width="2" height="1" fill="#000"/>
<text x="1695.9" y="460" font-size="9.9" font-family="Liberation Sans, sans-serif" fill="#000" textLength="32.2" lengthAdjust="spacingAndGlyphs">1488.10</text>
<rect x="1691" y="489" width="2" height="1" fill="#000"/>
<text x="1695.9" y="493" font-size="9.9" font-family="Liberation Sans, sans-serif" fill="#000" textLength="32.2" lengthAdjust="spacingAndGlyphs">1466.50</text>
<rect x="1691" y="522" width="2" height="1" fill="#000"/>
<text x="1695.9" y="526" font-size="9.9" font-family="Liberation Sans, sans-serif" fill="#000" textLength="32.2" lengthAdjust="spacingAndGlyphs">1445.50</text>
<rect x="1692" y="124.5" width="38" height="10" fill="#30c030"/>
<text x="1695.9" y="133" font-size="9.9" font-family="Liberation Sans, sans-serif" fill="#fff" textLength="32.2" lengthAdjust="spacingAndGlyphs">1700.00</text>
<rect x="1692" y="144.5" width="38" height="10" fill="#000"/>
<text x="1695.9" y="153" font-size="9.9" font-family="Liberation Sans, sans-serif" fill="#fff" textLength="32.2" lengthAdjust="spacingAndGlyphs">1688.15</text>
<rect x="1692" y="178.5" width="38" height="10" fill="#3a62dc"/>
<text x="1695.9" y="187" font-size="9.9" font-family="Liberation Sans, sans-serif" fill="#fff" textLength="32.2" lengthAdjust="spacingAndGlyphs">1665.00</text>
<rect x="1692" y="263.5" width="38" height="10" fill="#3a62dc"/>
<text x="1695.9" y="272" font-size="9.9" font-family="Liberation Sans, sans-serif" fill="#fff" textLength="32.2" lengthAdjust="spacingAndGlyphs">1610.00</text>
<rect x="1692" y="332.5" width="38" height="10" fill="#3a62dc"/>
<text x="1695.9" y="341" font-size="9.9" font-family="Liberation Sans, sans-serif" fill="#fff" textLength="32.2" lengthAdjust="spacingAndGlyphs">1565.00</text>
<g clip-path="url(#c2)" shape-rendering="crispEdges">
<path d="M10 588h1V599h-1zM18 588h1V593h-1zM26 588h1v1h-1zM34 587h1V589h-1zM42 585h1V589h-1zM50 582h1V589h-1zM58 581h1V589h-1zM66 580h1V589h-1zM74 580h1V589h-1zM82 580h1V589h-1zM90 578h1V589h-1zM98 575h1V589h-1zM106 572h1V589h-1zM114 569h1V589h-1zM122 567h1V589h-1zM130 566h1V589h-1zM138 563h1V589h-1zM146 564h1V589h-1zM154 562h1V589h-1zM162 559h1V589h-1zM170 560h1V589h-1zM178 560h1V589h-1zM186 562h1V589h-1zM194 565h1V589h-1zM202 566h1V589h-1zM210 569h1V589h-1zM218 571h1V589h-1zM226 574h1V589h-1zM234 576h1V589h-1zM242 579h1V589h-1zM250 584h1V589h-1zM258 586h1V589h-1zM266 586h1V589h-1zM274 586h1V589h-1zM282 586h1V589h-1zM290 588h1v1h-1zM298 588h1V589h-1zM306 588h1V592h-1zM314 588h1V594h-1zM322 588h1V595h-1zM330 588h1V597h-1zM338 588h1V609h-1zM346 588h1V616h-1zM354 588h1V621h-1zM362 588h1V627h-1zM370 588h1V627h-1zM378 588h1V628h-1zM386 588h1V635h-1zM394 588h1V643h-1zM402 588h1V642h-1zM410 588h1V643h-1zM418 588h1V644h-1zM426 588h1V656h-1zM434 588h1V657h-1zM442 588h1V657h-1zM450 588h1V657h-1zM458 588h1V656h-1zM466 588h1V657h-1zM474 588h1V658h-1zM482 588h1V650h-1zM490 588h1V644h-1zM498 588h1V637h-1zM506 588h1V632h-1zM514 588h1V632h-1zM522 588h1V630h-1zM530 588h1V630h-1zM538 588h1V630h-1zM546 588h1V630h-1zM554 588h1V632h-1zM562 588h1V632h-1zM570 588h1V631h-1zM578 588h1V631h-1zM586 588h1V631h-1zM594 588h1V632h-1zM602 588h1V630h-1zM610 588h1V623h-1zM618 588h1V617h-1zM626 588h1V616h-1zM634 588h1V616h-1zM642 588h1V613h-1zM650 588h1V610h-1zM658 588h1V609h-1zM666 588h1V607h-1zM674 588h1V598h-1zM682 588h1v1h-1zM690 582h1V589h-1zM698 574h1V589h-1zM706 569h1V589h-1zM714 561h1V589h-1zM722 553h1V589h-1zM730 544h1V589h-1zM738 538h1V589h-1zM746 536h1V589h-1zM754 536h1V589h-1zM762 537h1V589h-1zM770 537h1V589h-1zM778 538h1V589h-1zM786 540h1V589h-1zM794 543h1V589h-1zM802 545h1V589h-1zM810 545h1V589h-1zM818 545h1V589h-1zM826 546h1V589h-1zM834 546h1V589h-1zM842 547h1V589h-1zM850 549h1V589h-1zM858 552h1V589h-1zM866 553h1V589h-1zM874 554h1V589h-1zM882 556h1V589h-1zM890 559h1V589h-1zM898 561h1V589h-1zM906 563h1V589h-1zM914 565h1V589h-1zM922 566h1V589h-1zM930 568h1V589h-1zM938 571h1V589h-1zM946 572h1V589h-1zM954 576h1V589h-1zM962 578h1V589h-1zM970 585h1V589h-1zM986 588h1V591h-1zM994 588h1V592h-1zM1002 588h1V593h-1zM1010 588h1V594h-1zM1018 588h1V595h-1zM1026 588h1V595h-1zM1034 588h1V595h-1zM1042 588h1V595h-1zM1050 588h1V594h-1zM1058 588h1V592h-1zM1066 588h1V589h-1zM1074 588h1v1h-1zM1082 586h1V589h-1zM1090 585h1V589h-1zM1098 583h1V589h-1zM1106 582h1V589h-1zM1114 580h1V589h-1zM1122 580h1V589h-1zM1130 580h1V589h-1zM1138 578h1V589h-1zM1146 575h1V589h-1zM1154 572h1V589h-1zM1162 567h1V589h-1zM1170 564h1V589h-1zM1178 562h1V589h-1zM1186 563h1V589h-1zM1194 563h1V589h-1zM1202 563h1V589h-1zM1210 563h1V589h-1zM1218 563h1V589h-1zM1226 566h1V589h-1zM1234 567h1V589h-1zM1242 569h1V589h-1zM1250 570h1V589h-1zM1258 572h1V589h-1zM1266 573h1V589h-1zM1274 574h1V589h-1zM1282 574h1V589h-1zM1290 573h1V589h-1zM1298 569h1V589h-1zM1306 567h1V589h-1zM1314 565h1V589h-1zM1322 564h1V589h-1zM1330 564h1V589h-1zM1338 562h1V589h-1zM1346 561h1V589h-1zM1354 559h1V589h-1zM1362 556h1V589h-1zM1370 554h1V589h-1zM1378 552h1V589h-1zM1386 551h1V589h-1zM1394 550h1V589h-1zM1402 549h1V589h-1zM1410 549h1V589h-1zM1418 550h1V589h-1zM1426 550h1V589h-1zM1434 555h1V589h-1zM1442 556h1V589h-1zM1450 559h1V589h-1zM1458 560h1V589h-1zM1466 562h1V589h-1zM1474 564h1V589h-1zM1482 565h1V589h-1zM1490 564h1V589h-1zM1498 566h1V589h-1zM1506 568h1V589h-1zM1514 570h1V589h-1zM1522 573h1V589h-1zM1530 578h1V589h-1zM1538 582h1V589h-1zM1546 586h1V589h-1zM1562 588h1V592h-1zM1570 588h1V595h-1zM1578 588h1V596h-1zM1586 588h1V598h-1zM1594 588h1V596h-1zM1602 588h1V595h-1zM1610 588h1V594h-1zM1618 588h1V595h-1zM1626 588h1V595h-1zM1634 588h1V597h-1zM1642 588h1V597h-1zM1650 588h1V597h-1zM1658 588h1V596h-1zM1666 588h1V596h-1z" fill="#c0c0c0"/>
<path d="M10.4 608.7 L25.4 604.9 L38.2 599.8 L50.9 595.2 L66.2 588.3 L76.3 585.8 L89.1 581.5 L101.8 579.4 L114.5 576.1 L129.8 573.6 L142.5 570.5 L155.2 568 L162.8 564.9 L178.1 562.4 L195.9 561.4 L211.2 562.4 L229 564.2 L244.3 568.7 L257 573.8 L274.8 578.2 L290.1 581.5 L305.3 585.8 L320.6 588.8 L330.8 590.1 L346.1 594.7 L356.2 601.1 L369 608.7 L381.7 613.8 L394.4 623.5 L407.1 629.6 L419.8 635.4 L420 636.2 L430.2 640.5 L442.9 645.1 L455.6 650.7 L470.9 652.5 L481.1 655.3 L491.2 655 L506.5 650.2 L521.8 645.1 L534.5 641 L547.2 635.9 L557.4 633.1 L572.7 631.9 L593 631.9 L613.4 629.6 L633.7 626 L649 621.4 L664.3 617.1 L674.5 613.8 L687.2 606.9 L699.9 599.8 L712.6 589.6 L725.3 579.4 L738.1 568 L750.8 557.8 L763.5 549.4 L776.2 542.5 L786.4 539.2 L801.7 538.2 L816.9 540 L837.3 542.5 L850 544.3 L862.7 545.8 L875.4 547.6 L888.2 550.2 L900.9 552.7 L913.6 556 L926.3 558.6 L939.1 561.1 L951.8 565.4 L962 568 L972.1 571.3 L982.3 575.6 L992.5 579.4 L1002.7 582 L1012.8 586.6 L1028.1 590.9 L1043.4 593.4 L1058.7 594.2 L1073.9 593.4 L1086.6 591.6 L1096.8 589.1 L1112.1 587.1 L1122.3 584.5 L1135 582.5 L1150.3 579.4 L1163 576.4 L1175.7 573.1 L1188.4 569.8 L1196.1 568 L1211.3 565.4 L1226.6 563.7 L1236.8 563.7 L1249.5 565.4 L1267.3 567.2 L1270 567.2 L1282.7 569.3 L1295.4 570.5 L1315.8 570 L1333.6 567.5 L1351.4 564.9 L1364.1 561.6 L1379.4 558.6 L1394.7 554.8 L1409.9 551.4 L1427.8 550.4 L1448.1 550.7 L1463.4 552.2 L1473.6 554.8 L1486.3 557.8 L1501.6 560.4 L1514.3 563.7 L1527 565.4 L1537.2 568 L1547.4 571.8 L1557.5 575.6 L1567.7 579.9 L1577.9 584.5 L1585.5 587.1 L1595.7 589.6 L1605.9 592.7 L1616.1 594.7 L1631.3 596 L1646.6 596.5 L1666.9 596" fill="none" stroke="#ff0000" stroke-width="1" stroke-dasharray="3,3"/>
</g>
<text x="14.2" y="540" font-size="9.9" font-family="Liberation Sans, sans-serif" fill="#000" textLength="124.0" lengthAdjust="spacingAndGlyphs">MACD(12,26,9) -4.498 -4.337</text>
<text x="1693.7" y="538" font-size="9.9" font-family="Liberation Sans, sans-serif" fill="#000" textLength="27.2" lengthAdjust="spacingAndGlyphs">32.459</text>
<text x="1693.7" y="592" font-size="9.9" font-family="Liberation Sans, sans-serif" fill="#000" textLength="17.3" lengthAdjust="spacingAndGlyphs">0.00</text>
<text x="1693.7" y="663" font-size="9.9" font-family="Liberation Sans, sans-serif" fill="#000" textLength="25.3" lengthAdjust="spacingAndGlyphs">-41.95</text>
<rect x="1691" y="529" width="1" height="1" fill="#000"/>
<rect x="1691" y="665" width="1" height="1" fill="#000"/>
<rect x="1691" y="588" width="2" height="1" fill="#000"/>
<g clip-path="url(#c3)" shape-rendering="crispEdges">
<path d="M11 699.5H1690" stroke="#b4b4b4" stroke-width="1" stroke-dasharray="3,3" fill="none"/>
<path d="M11 739.5H1690" stroke="#b4b4b4" stroke-width="1" stroke-dasharray="3,3" fill="none"/>
<path d="M10.5 714.3 L18.5 708.5 L26.5 710 L34.5 712.3 L42.5 710.5 L50.5 710.5 L58.5 712.6 L66.5 714.3 L74.5 712.6 L82.5 714.3 L90.5 709.3 L98.5 704.2 L106.5 700.6 L114.5 700.6 L122.5 703.4 L130.5 702.4 L138.5 698.3 L146.5 711.3 L154.5 704.7 L162.5 701.1 L170.5 709.8 L178.5 709.8 L186.5 712.6 L194.5 716.1 L202.5 712.6 L210.5 717.4 L218.5 717.4 L226.5 719.4 L234.5 719.4 L242.5 722.7 L250.5 727.6 L258.5 723.3 L266.5 719.7 L274.5 717.7 L282.5 716.4 L290.5 724 L298.5 728.3 L306.5 725.3 L314.5 727.3 L322.5 725.3 L330.5 728.3 L338.5 744.9 L346.5 742.8 L354.5 740 L362.5 742.3 L370.5 730.4 L378.5 732.7 L386.5 740.3 L394.5 743.6 L402.5 730.4 L410.5 731.6 L418.5 734.7 L426.5 742.3 L434.5 732.7 L442.5 731.6 L450.5 731.6 L458.5 732.7 L466.5 734.2 L474.5 736.2 L482.5 723.5 L490.5 723.3 L498.5 722.2 L506.5 723.5 L514.5 728.1 L522.5 724.5 L530.5 728.1 L538.5 728.3 L546.5 727.3 L554.5 732.2 L562.5 728.3 L570.5 730.4 L578.5 728.3 L586.5 730.4 L594.5 729.6 L602.5 726.6 L610.5 719.4 L618.5 721.2 L626.5 724.5 L634.5 726.6 L642.5 723.8 L650.5 722.5 L658.5 723.5 L666.5 722.5 L674.5 709.3 L682.5 706.7 L690.5 705.2 L698.5 704.4 L706.5 704.2 L714.5 700.4 L722.5 697.3 L730.5 695.5 L738.5 694.5 L746.5 700.4 L754.5 705.4 L762.5 704.2 L770.5 703.4 L778.5 705.4 L786.5 704.4 L794.5 707.2 L802.5 708.5 L810.5 702.9 L818.5 701.4 L826.5 702.4 L834.5 703.4 L842.5 703.4 L850.5 705.4 L858.5 707.2 L866.5 705.4 L874.5 704.2 L882.5 704.2 L890.5 711.3 L898.5 709.8 L906.5 709.5 L914.5 710.5 L922.5 708.5 L930.5 713.1 L938.5 714.3 L946.5 714.3 L954.5 723.3 L962.5 718.7 L970.5 733.7 L978.5 732.2 L986.5 728.3 L994.5 722.5 L1002.5 725.5 L1010.5 723.5 L1018.5 724.5 L1026.5 723.5 L1034.5 726.6 L1042.5 722.5 L1050.5 720.5 L1058.5 712.6 L1066.5 711.3 L1074.5 712.6 L1082.5 711.5 L1090.5 711.3 L1098.5 708.5 L1106.5 711.5 L1114.5 707.2 L1122.5 710.5 L1130.5 712.6 L1138.5 705.4 L1146.5 702.4 L1154.5 699.3 L1162.5 693.2 L1170.5 698.3 L1178.5 699.3 L1186.5 708.5 L1194.5 706.2 L1202.5 704.4 L1210.5 704.4 L1218.5 710.5 L1226.5 710.3 L1234.5 709.5 L1242.5 710.5 L1250.5 711.8 L1258.5 713.6 L1266.5 712.3 L1274.5 711.5 L1282.5 705.4 L1290.5 703.4 L1298.5 695.3 L1306.5 695.5 L1314.5 698.6 L1322.5 696.3 L1330.5 700.4 L1338.5 696.5 L1346.5 696.3 L1354.5 691.4 L1362.5 689.4 L1370.5 689.4 L1378.5 688.4 L1386.5 687.4 L1394.5 689.4 L1402.5 686.1 L1410.5 692 L1418.5 695.8 L1426.5 699.1 L1434.5 707.2 L1442.5 702.4 L1450.5 709.3 L1458.5 705.2 L1466.5 710.3 L1474.5 711.8 L1482.5 707.5 L1490.5 702.4 L1498.5 711.3 L1506.5 713.3 L1514.5 715.4 L1522.5 720.2 L1530.5 725 L1538.5 728.3 L1546.5 727.3 L1554.5 730.4 L1562.5 733.4 L1570.5 729.4 L1578.5 732.7 L1586.5 725 L1594.5 718.4 L1602.5 720.2 L1610.5 722.2 L1618.5 723.5 L1626.5 719.4 L1634.5 731.4 L1642.5 726.3 L1650.5 722.5 L1658.5 722.5 L1666.5 721.2" fill="none" stroke="#1e90ff" stroke-width="1" />
</g>
<text x="14.2" y="681" font-size="9.9" font-family="Liberation Sans, sans-serif" fill="#000" textLength="67.2" lengthAdjust="spacingAndGlyphs">RSI(14) 48.2371</text>
<text x="1693.7" y="679" font-size="9.9" font-family="Liberation Sans, sans-serif" fill="#000" textLength="14.9" lengthAdjust="spacingAndGlyphs">100</text>
<text x="1693.7" y="703" font-size="9.9" font-family="Liberation Sans, sans-serif" fill="#000" textLength="9.9" lengthAdjust="spacingAndGlyphs">70</text>
<text x="1693.7" y="743" font-size="9.9" font-family="Liberation Sans, sans-serif" fill="#000" textLength="9.9" lengthAdjust="spacingAndGlyphs">30</text>
<text x="1693.7" y="766" font-size="9.9" font-family="Liberation Sans, sans-serif" fill="#000" textLength="5.0" lengthAdjust="spacingAndGlyphs">0</text>
<rect x="1691" y="699" width="2" height="1" fill="#000"/>
<rect x="1691" y="739" width="2" height="1" fill="#000"/>
<rect x="1691" y="670" width="1" height="1" fill="#000"/>
<rect x="1691" y="768" width="1" height="1" fill="#000"/>
<rect x="10" y="770" width="1" height="3" fill="#000"/>
<text x="9.3" y="782" font-size="9.9" font-family="Liberation Sans, sans-serif" fill="#000" textLength="45.8" lengthAdjust="spacingAndGlyphs">3 Mar 2020</text>
<rect x="74" y="770" width="1" height="3" fill="#000"/>
<text x="73.3" y="782" font-size="9.9" font-family="Liberation Sans, sans-serif" fill="#000" textLength="49.1" lengthAdjust="spacingAndGlyphs">5 Mar 00:00</text>
<rect x="138" y="770" width="1" height="3" fill="#000"/>
<text x="137.3" y="782" font-size="9.9" font-family="Liberation Sans, sans-serif" fill="#000" textLength="49.1" lengthAdjust="spacingAndGlyphs">6 Mar 08:00</text>
<rect x="202" y="770" width="1" height="3" fill="#000"/>
<text x="201.3" y="782" font-size="9.9" font-family="Liberation Sans, sans-serif" fill="#000" textLength="49.1" lengthAdjust="spacingAndGlyphs">9 Mar 16:00</text>
<rect x="266" y="770" width="1" height="3" fill="#000"/>
<text x="265.3" y="782" font-size="9.9" font-family="Liberation Sans, sans-serif" fill="#000" textLength="54.2" lengthAdjust="spacingAndGlyphs">11 Mar 00:00</text>
<rect x="330" y="770" width="1" height="3" fill="#000"/>
<text x="329.3" y="782" font-size="9.9" font-family="Liberation Sans, sans-serif" fill="#000" textLength="54.2" lengthAdjust="spacingAndGlyphs">12 Mar 08:00</text>
<rect x="394" y="770" width="1" height="3" fill="#000"/>
<text x="393.3" y="782" font-size="9.9" font-family="Liberation Sans, sans-serif" fill="#000" textLength="54.2" lengthAdjust="spacingAndGlyphs">13 Mar 16:00</text>
<rect x="458" y="770" width="1" height="3" fill="#000"/>
<text x="457.3" y="782" font-size="9.9" font-family="Liberation Sans, sans-serif" fill="#000" textLength="54.2" lengthAdjust="spacingAndGlyphs">17 Mar 00:00</text>
<rect x="522" y="770" width="1" height="3" fill="#000"/>
<text x="521.3" y="782" font-size="9.9" font-family="Liberation Sans, sans-serif" fill="#000" textLength="54.2" lengthAdjust="spacingAndGlyphs">18 Mar 08:00</text>
<rect x="586" y="770" width="1" height="3" fill="#000"/>
<text x="585.3" y="782" font-size="9.9" font-family="Liberation Sans, sans-serif" fill="#000" textLength="54.2" lengthAdjust="spacingAndGlyphs">19 Mar 16:00</text>
<rect x="650" y="770" width="1" height="3" fill="#000"/>
<text x="649.3" y="782" font-size="9.9" font-family="Liberation Sans, sans-serif" fill="#000" textLength="54.2" lengthAdjust="spacingAndGlyphs">23 Mar 00:00</text>
<rect x="714" y="770" width="1" height="3" fill="#000"/>
<text x="713.3" y="782" font-size="9.9" font-family="Liberation Sans, sans-serif" fill="#000" textLength="54.2" lengthAdjust="spacingAndGlyphs">24 Mar 08:00</text>
<rect x="778" y="770" width="1" height="3" fill="#000"/>
<text x="777.3" y="782" font-size="9.9" font-family="Liberation Sans, sans-serif" fill="#000" textLength="54.2" lengthAdjust="spacingAndGlyphs">25 Mar 16:00</text>
<rect x="842" y="770" width="1" height="3" fill="#000"/>
<text x="841.3" y="782" font-size="9.9" font-family="Liberation Sans, sans-serif" fill="#000" textLength="54.2" lengthAdjust="spacingAndGlyphs">27 Mar 00:00</text>
<rect x="906" y="770" width="1" height="3" fill="#000"/>
<text x="905.3" y="782" font-size="9.9" font-family="Liberation Sans, sans-serif" fill="#000" textLength="54.2" lengthAdjust="spacingAndGlyphs">30 Mar 08:00</text>
<rect x="970" y="770" width="1" height="3" fill="#000"/>
<text x="969.3" y="782" font-size="9.9" font-family="Liberation Sans, sans-serif" fill="#000" textLength="54.2" lengthAdjust="spacingAndGlyphs">31 Mar 16:00</text>
<rect x="1034" y="770" width="1" height="3" fill="#000"/>
<text x="1033.3" y="782" font-size="9.9" font-family="Liberation Sans, sans-serif" fill="#000" textLength="47.6" lengthAdjust="spacingAndGlyphs">2 Apr 00:00</text>
<rect x="1098" y="770" width="1" height="3" fill="#000"/>
<text x="1097.3" y="782" font-size="9.9" font-family="Liberation Sans, sans-serif" fill="#000" textLength="47.6" lengthAdjust="spacingAndGlyphs">3 Apr 08:00</text>
<rect x="1162" y="770" width="1" height="3" fill="#000"/>
<text x="1161.3" y="782" font-size="9.9" font-family="Liberation Sans, sans-serif" fill="#000" textLength="47.6" lengthAdjust="spacingAndGlyphs">6 Apr 16:00</text>
<rect x="1226" y="770" width="1" height="3" fill="#000"/>
<text x="1225.3" y="782" font-size="9.9" font-family="Liberation Sans, sans-serif" fill="#000" textLength="47.6" lengthAdjust="spacingAndGlyphs">8 Apr 00:00</text>
<rect x="1290" y="770" width="1" height="3" fill="#000"/>
<text x="1289.3" y="782" font-size="9.9" font-family="Liberation Sans, sans-serif" fill="#000" textLength="47.6" lengthAdjust="spacingAndGlyphs">9 Apr 08:00</text>
<rect x="1354" y="770" width="1" height="3" fill="#000"/>
<text x="1353.3" y="782" font-size="9.9" font-family="Liberation Sans, sans-serif" fill="#000" textLength="52.7" lengthAdjust="spacingAndGlyphs">13 Apr 12:00</text>
<rect x="1418" y="770" width="1" height="3" fill="#000"/>
<text x="1417.3" y="782" font-size="9.9" font-family="Liberation Sans, sans-serif" fill="#000" textLength="52.7" lengthAdjust="spacingAndGlyphs">14 Apr 20:00</text>
<rect x="1482" y="770" width="1" height="3" fill="#000"/>
<text x="1481.3" y="782" font-size="9.9" font-family="Liberation Sans, sans-serif" fill="#000" textLength="52.7" lengthAdjust="spacingAndGlyphs">16 Apr 04:00</text>
<rect x="1546" y="770" width="1" height="3" fill="#000"/>
<text x="1545.3" y="782" font-size="9.9" font-family="Liberation Sans, sans-serif" fill="#000" textLength="52.7" lengthAdjust="spacingAndGlyphs">17 Apr 12:00</text>
<rect x="1610" y="770" width="1" height="3" fill="#000"/>
<text x="1609.3" y="782" font-size="9.9" font-family="Liberation Sans, sans-serif" fill="#000" textLength="52.7" lengthAdjust="spacingAndGlyphs">20 Apr 20:00</text></svg></body></html>
